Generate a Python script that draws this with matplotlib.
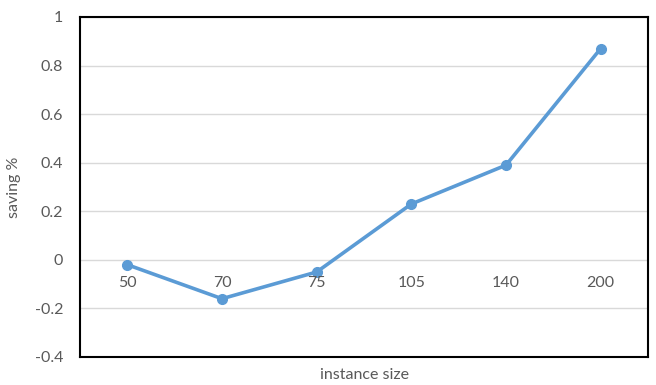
import matplotlib.pyplot as plt
import numpy as np

sizes = ['50', '70', '75', '105', '140', '200']
saving = [-0.02, -0.16, -0.05, 0.23, 0.39, 0.87]
y_ticks = [-0.4, -0.2, 0, 0.2, 0.4, 0.6, 0.8, 1]
y_tick_labels = ['-0.4', '-0.2', '0', '0.2', '0.4', '0.6', '0.8', '1']

plt.rcParams['font.family'] = ['Lato', 'DejaVu Sans']
FS = 11.5
GREY = '#595959'

fig = plt.figure(figsize=(6.56, 3.85), dpi=100)
ax = fig.add_axes([80 / 656, 28 / 385, 568 / 656, 340 / 385])

x = np.arange(len(sizes))
ax.plot(x, saving, color='#5B9BD5', linewidth=2.6, marker='o', markersize=7,
        solid_capstyle='round', zorder=3)

ax.set_xlim(-0.5, len(sizes) - 0.5)
ax.set_ylim(-0.4, 1)
ax.set_yticks(y_ticks)
ax.set_yticklabels(y_tick_labels)
ax.grid(axis='y', color='#D9D9D9', linewidth=1)
ax.set_axisbelow(True)

ax.set_xticks([])
ax.tick_params(axis='y', length=0, pad=12, labelsize=FS, labelcolor=GREY)

# category labels sit just under the zero line
for xi, lab in zip(x, sizes):
    ax.annotate(lab, (xi, 0), xytext=(0, -17), textcoords='offset points',
                ha='center', va='center', fontsize=FS, color=GREY)

for sp in ax.spines.values():
    sp.set_color('black')
    sp.set_linewidth(1.5)

ax.set_ylabel('saving %', fontsize=FS, color=GREY, labelpad=10)
fig.text(365 / 656, 1 - 375 / 385, 'instance size', ha='center', va='center',
         fontsize=FS, color=GREY)

fig.savefig('out.png', dpi=100)
